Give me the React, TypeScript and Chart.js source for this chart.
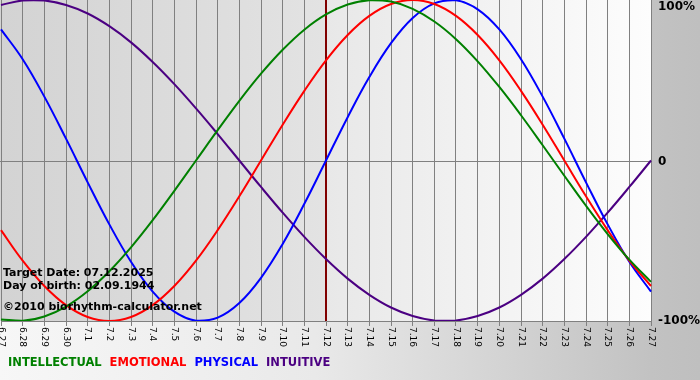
import { useEffect, useRef } from "react";
import { Chart, registerables } from "chart.js";

Chart.register(...registerables);

// Day labels (month.day), 6.27 .. 7.27
const dayLabels = [
  "6.27", "6.28", "6.29", "6.30",
  "7.1", "7.2", "7.3", "7.4", "7.5", "7.6", "7.7", "7.8", "7.9", "7.10",
  "7.11", "7.12", "7.13", "7.14", "7.15", "7.16", "7.17", "7.18", "7.19", "7.20",
  "7.21", "7.22", "7.23", "7.24", "7.25", "7.26", "7.27",
];

// Values (-1 .. 1 = -100% .. 100%)
const intellectual = [
  -0.99, -0.999, -0.972, -0.91, -0.815, -0.69, -0.541, -0.372, -0.189, 0.0,
  0.189, 0.372, 0.541, 0.69, 0.815, 0.91, 0.972, 0.999, 0.99, 0.945,
  0.866, 0.756, 0.618, 0.458, 0.282, 0.095, -0.095, -0.282, -0.458, -0.618, -0.756,
];
const emotional = [
  -0.434, -0.624, -0.782, -0.901, -0.975, -1.0, -0.975, -0.901, -0.782, -0.624,
  -0.434, -0.223, 0.0, 0.223, 0.434, 0.624, 0.782, 0.901, 0.975, 1.0,
  0.975, 0.901, 0.782, 0.624, 0.434, 0.223, 0.0, -0.223, -0.434, -0.624, -0.782,
];
const physical = [
  0.817, 0.631, 0.398, 0.136, -0.136, -0.398, -0.631, -0.817, -0.942, -0.998,
  -0.979, -0.888, -0.731, -0.52, -0.27, 0.0, 0.27, 0.52, 0.731, 0.888,
  0.979, 0.998, 0.942, 0.817, 0.631, 0.398, 0.136, -0.136, -0.398, -0.631, -0.817,
];
const intuitive = [
  0.969, 0.997, 0.997, 0.969, 0.916, 0.837, 0.736, 0.614, 0.476, 0.325,
  0.165, 0.0, -0.165, -0.325, -0.476, -0.614, -0.736, -0.837, -0.916, -0.969,
  -0.997, -0.997, -0.969, -0.916, -0.837, -0.736, -0.614, -0.476, -0.325, -0.165, 0.0,
];

const seriesNames = ["INTELLECTUAL", "EMOTIONAL", "PHYSICAL", "INTUITIVE"];
const seriesColors = ["#008000", "#ff0000", "#0000ff", "#4b0082"];
const seriesData = [intellectual, emotional, physical, intuitive];

const yTickValues = [1, 0, -1];
const yTickTexts = ["100%", "0", "-100%"];

const targetLabel = "7.12";
const infoLines = [
  "Target Date: 07.12.2025",
  "Day of birth: 02.09.1944",
  "\u00A92010 biorhythm-calculator.net",
];

const FONT = "'DejaVu Sans', Verdana, sans-serif";

const decorPlugin = {
  id: "decor",
  beforeDraw(chart: any) {
    const { ctx, chartArea: a, width, height } = chart;
    ctx.save();
    const g = ctx.createLinearGradient(0, 0, width, 0);
    g.addColorStop(0, "#f7f7f7");
    g.addColorStop(0.45, "#e9e9e9");
    g.addColorStop(0.93, "#c2c2c2");
    g.addColorStop(1, "#bfbfbf");
    ctx.fillStyle = g;
    ctx.fillRect(0, 0, width, height);

    const xs = chart.scales.x;
    const tx = xs.getPixelForValue(dayLabels.indexOf(targetLabel));
    const g1 = ctx.createLinearGradient(0, 0, tx, 0);
    g1.addColorStop(0, "#d3d3d3");
    g1.addColorStop(1, "#e3e3e3");
    ctx.fillStyle = g1;
    ctx.fillRect(0, a.top, tx, a.bottom - a.top);
    const g2 = ctx.createLinearGradient(tx, 0, a.right, 0);
    g2.addColorStop(0, "#e8e8e8");
    g2.addColorStop(1, "#fdfdfd");
    ctx.fillStyle = g2;
    ctx.fillRect(tx, a.top, a.right - tx, a.bottom - a.top);
    ctx.restore();
  },
  beforeDatasetsDraw(chart: any) {
    const { ctx, chartArea: a } = chart;
    const xs = chart.scales.x;
    const ys = chart.scales.y;
    ctx.save();
    const zy = Math.round(ys.getPixelForValue(0)) + 0.5;
    ctx.strokeStyle = "#808080";
    ctx.lineWidth = 1;
    ctx.beginPath();
    ctx.moveTo(0, zy);
    ctx.lineTo(a.right, zy);
    ctx.stroke();
    const tx = xs.getPixelForValue(dayLabels.indexOf(targetLabel));
    ctx.strokeStyle = "#800000";
    ctx.lineWidth = 2;
    ctx.beginPath();
    ctx.moveTo(tx, a.top);
    ctx.lineTo(tx, a.bottom);
    ctx.stroke();
    ctx.restore();
  },
  afterDraw(chart: any) {
    const { ctx, chartArea: a } = chart;
    const xs = chart.scales.x;
    const ys = chart.scales.y;
    ctx.save();
    // x tick labels, rotated to read downward
    ctx.fillStyle = "#000";
    ctx.font = `9px ${FONT}`;
    ctx.textAlign = "left";
    ctx.textBaseline = "middle";
    dayLabels.forEach((lab, i) => {
      const x = xs.getPixelForValue(i);
      ctx.save();
      ctx.translate(x, a.bottom + 6);
      ctx.rotate(Math.PI / 2);
      ctx.fillText(lab, 0, 0);
      ctx.restore();
    });
    // y labels on the right
    ctx.font = `bold 12px ${FONT}`;
    ctx.fillStyle = "#000";
    yTickValues.forEach((v, i) => {
      let y = ys.getPixelForValue(v);
      y = Math.max(a.top + 7, Math.min(a.bottom, y + 1));
      ctx.fillText(yTickTexts[i], a.right + 7, y);
    });
    // info text
    ctx.font = `bold 11px ${FONT}`;
    ctx.textBaseline = "alphabetic";
    ctx.fillStyle = "#000";
    const baselines = [a.bottom - 45, a.bottom - 32, a.bottom - 11];
    infoLines.forEach((t, i) => ctx.fillText(t, 3, baselines[i]));
    // legend
    ctx.font = `bold 11.5px ${FONT}`;
    let lx = 8;
    const ly = a.bottom + 45;
    seriesNames.forEach((n, i) => {
      ctx.fillStyle = seriesColors[i];
      ctx.fillText(n, lx, ly);
      lx += ctx.measureText(n).width + 8;
    });
    ctx.restore();
  },
};

export default function App() {
  const ref = useRef<HTMLCanvasElement | null>(null);
  useEffect(() => {
    document.body.style.margin = "0";
    const canvas = ref.current;
    if (!canvas) return;
    const chart = new Chart(canvas, {
      type: "line",
      data: {
        labels: dayLabels,
        datasets: seriesNames.map((n, i) => ({
          label: n,
          data: seriesData[i],
          borderColor: seriesColors[i],
          backgroundColor: seriesColors[i],
          borderWidth: 2,
          pointRadius: 0,
          tension: 0.4,
          fill: false,
        })),
      },
      options: {
        animation: false,
        responsive: false,
        devicePixelRatio: 1,
        layout: { padding: { left: 1, right: 49, top: 0, bottom: 54 } },
        plugins: { legend: { display: false }, tooltip: { enabled: false } },
        scales: {
          x: {
            type: "category",
            offset: false,
            ticks: { display: false },
            grid: {
              color: "#808080",
              lineWidth: 1,
              drawTicks: true,
              tickLength: 5,
              tickColor: "#808080",
            },
            border: { display: true, color: "#808080" },
          },
          y: {
            display: false,
            min: -1,
            max: 1,
          },
        },
      },
      plugins: [decorPlugin],
    });
    return () => chart.destroy();
  }, []);
  return (
    <div style={{ width: 700, height: 380 }}>
      <canvas ref={ref} width={700} height={380} />
    </div>
  );
}
